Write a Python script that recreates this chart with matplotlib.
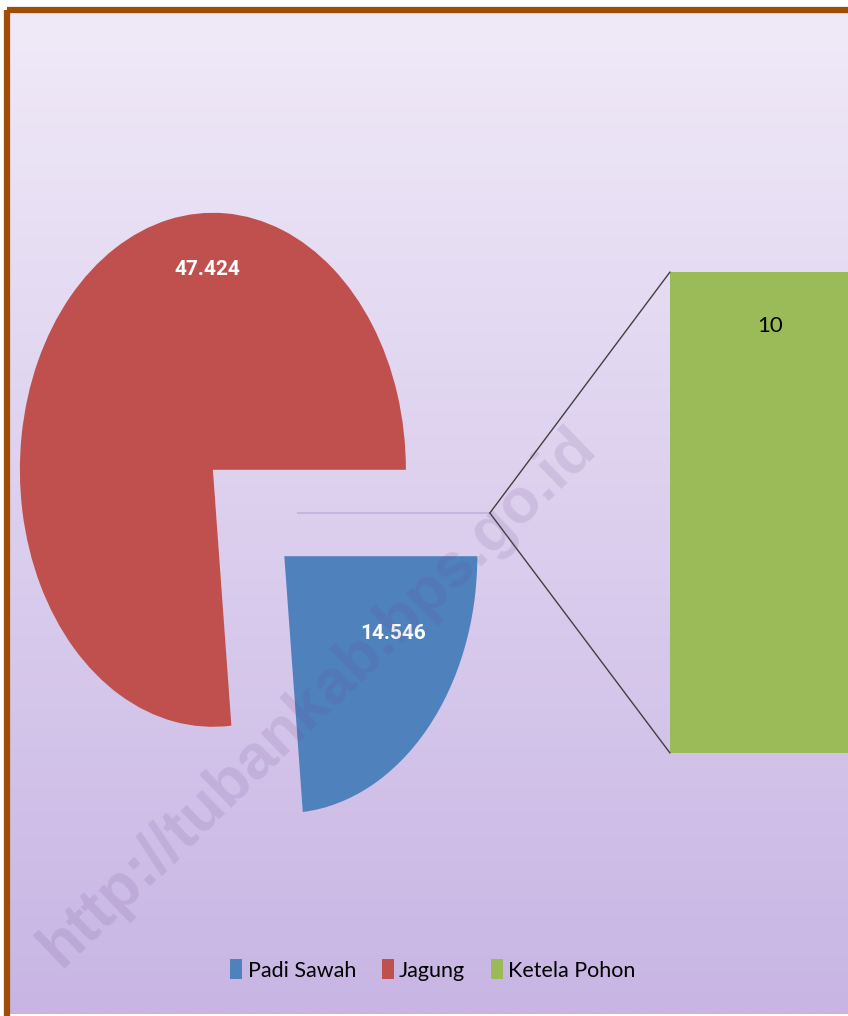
import numpy as np
import matplotlib.pyplot as plt
from matplotlib.patches import Rectangle, Patch
from matplotlib.patches import ConnectionPatch

# data
categories = ['Padi Sawah', 'Jagung', 'Ketela Pohon']
values = [14.546, 47.424, 10]
pie_labels = ['14.546', '47.424']
bar_label = '10'
# the "other" slice shows up empty in the source pie, only the bar carries it
pie_values = [values[0], values[1], 0]
colors = ['#4f81bd', '#c0504d', '#9bbb59']
explode = [0.25, 0.25, 0.25]

W, H = 848, 1016
fig = plt.figure(figsize=(W / 100, H / 100), dpi=100)
fig.patch.set_facecolor('white')

font = ['Lato', 'DejaVu Sans']
bold_font = ['Roboto', 'DejaVu Sans']


def px_axes(x0, y0, x1, y1, **kw):
    # axes from pixel box (top-left origin)
    return fig.add_axes([x0 / W, 1 - y1 / H, (x1 - x0) / W, (y1 - y0) / H], **kw)


# background gradient + brown frame
bg = px_axes(0, 0, W, H)
bg.set_xlim(0, W)
bg.set_ylim(H, 0)
bg.axis('off')
top = np.array([0xf0, 0xea, 0xf8]) / 255
bot = np.array([0xc8, 0xb5, 0xe4]) / 255
t = np.linspace(0, 1, 256)[:, None]
grad = (top * (1 - t) + bot * t)[:, None, :]
bg.imshow(grad, extent=(8, W + 20, H - 2, 10), aspect='auto', interpolation='bilinear')
bg.add_patch(Rectangle((6.5, 9.5), W + 40, H, fill=False, edgecolor='#a04d0a', linewidth=4.5))
bg.set_xlim(0, W)
bg.set_ylim(H, 0)

# pie (stretched vertically like the source)
rx, ry = 193, 257
cx, cy = 248.6, 513
lim = 1.3
ax = px_axes(cx - lim * rx, cy - lim * ry, cx + lim * rx, cy + lim * ry)
wedges, _ = ax.pie(pie_values, explode=explode, colors=colors, startangle=0,
                   counterclock=False, wedgeprops=dict(linewidth=0))
wedges[2].set_edgecolor('#c3b3de')
wedges[2].set_linewidth(1.3)
ax.set_aspect('auto')
ax.set_xlim(-lim, lim)
ax.set_ylim(-lim, lim)
ax.axis('off')

ax.text(-0.216, 0.946, pie_labels[1], color='white', fontsize=15, fontweight='bold',
        ha='center', va='center', family=bold_font)
ax.text(0.748, -0.467, pie_labels[0], color='white', fontsize=15, fontweight='bold',
        ha='center', va='center', family=bold_font)

# bar of the "other" part
bx = px_axes(670, 272, 870, 753)
bx.bar([0], [values[2]], width=1, color=colors[2])
bx.set_xlim(-0.5, 0.5)
bx.set_ylim(0, values[2])
bx.axis('off')
bx.text(0, values[2] * 0.888, bar_label, color='black', fontsize=16,
        ha='center', va='center', family=font)

# connector lines from the exploded slice tip to the bar
tip = (1 + explode[2], 0)
for yb in (values[2], 0):
    con = ConnectionPatch(xyA=tip, coordsA=ax.transData, xyB=(-0.5, yb), coordsB=bx.transData,
                          color='#404040', linewidth=1)
    fig.add_artist(con)

# legend
handles = [Patch(facecolor=c, edgecolor='none') for c in colors]
fig.legend(handles, categories, loc='center', bbox_to_anchor=(433 / W, 1 - 970 / H),
           ncol=3, frameon=False, handlelength=0.55, handleheight=1.0, handletextpad=0.25,
           columnspacing=1.2, prop={'family': font, 'size': 15.5})

# watermark
fig.text(318 / W, 1 - 697 / H, 'http://tubankab.bps.go.id', rotation=44,
         rotation_mode='anchor', ha='center', va='center', fontsize=45,
         fontweight='bold', color='#6a4a8a', alpha=0.14, family='Liberation Sans', zorder=10)

fig.savefig('out.png', dpi=100)
